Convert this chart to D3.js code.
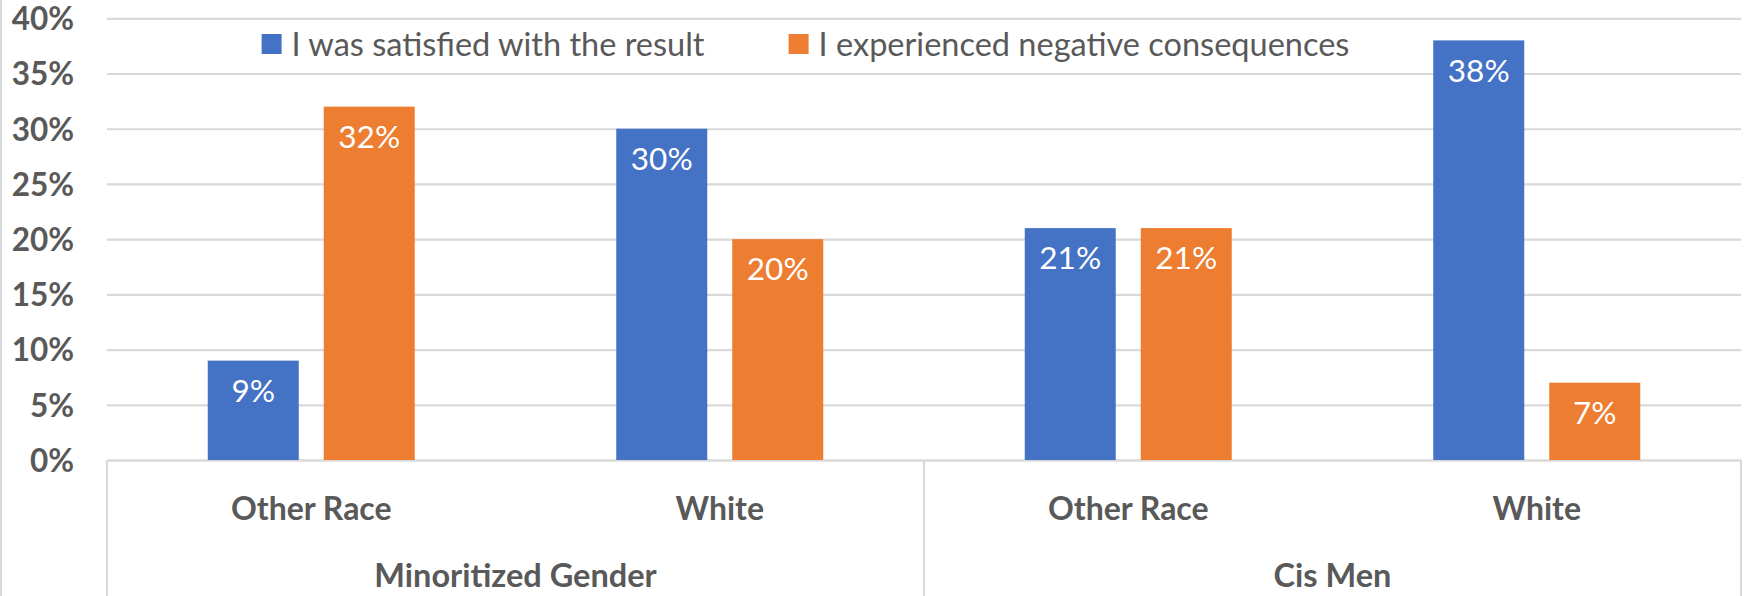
<!DOCTYPE html>
<html>
<head>
<meta charset="utf-8">
<script src="https://cdn.jsdelivr.net/npm/d3@7"></script>
<style>
  html, body { margin: 0; padding: 0; background: #fff; }
  svg { display: block; }
</style>
</head>
<body>
<svg id="chart" width="1744" height="596"></svg>
<script>
// Data
const subCategories = ["Other Race", "White", "Other Race", "White"];
const groupNames = ["Minoritized Gender", "Cis Men"];
const groupSpan = [2, 2];               // how many sub-categories each group covers
const seriesNames = ["I was satisfied with the result", "I experienced negative consequences"];
const satisfied = [0.09, 0.30, 0.21, 0.38];
const negative = [0.32, 0.20, 0.21, 0.07];
const yTicks = [0, 0.05, 0.10, 0.15, 0.20, 0.25, 0.30, 0.35, 0.40];

const colors = ["#4472C4", "#ED7D31"];
const textColor = "#595959";
const gridColor = "#D9D9D9";
const fontFamily = "Lato, 'Open Sans', sans-serif";

const svg = d3.select("#chart");
const W = 1744, H = 596;
const plot = { left: 107, right: 1741, top: 18.3, bottom: 460 };

const rows = subCategories.map((c, i) => ({ idx: i, cat: c, values: [satisfied[i], negative[i]] }));

// Scales
const x0 = d3.scaleBand()
  .domain(rows.map(d => d.idx))
  .range([plot.left, plot.right])
  .paddingInner(0).paddingOuter(0);

const x1 = d3.scaleBand()
  .domain(d3.range(seriesNames.length))
  .range([0, x0.bandwidth()])
  .paddingInner(0.2155)
  .paddingOuter(0.8686);

const y = d3.scaleLinear()
  .domain([0, 0.40])
  .range([plot.bottom, plot.top]);

// Outer chart border (left edge)
svg.append("line")
  .attr("x1", 1).attr("x2", 1).attr("y1", 0).attr("y2", H)
  .attr("stroke", gridColor).attr("stroke-width", 2);

// Y axis with gridlines
const yAxis = d3.axisLeft(y)
  .tickValues(yTicks)
  .tickFormat(d3.format(".0%"))
  .tickSize(-(plot.right - plot.left))
  .tickPadding(33);

const gy = svg.append("g")
  .attr("transform", `translate(${plot.left},0)`)
  .call(yAxis);
gy.select(".domain").remove();
gy.selectAll(".tick line")
  .attr("stroke", gridColor).attr("stroke-width", 2.2);
gy.selectAll(".tick text")
  .attr("fill", textColor)
  .attr("font-family", fontFamily)
  .attr("font-weight", "bold")
  .attr("font-size", 31.5)
  .attr("dy", "0.36em");

// Category axis: baseline, sub-category labels, group labels and separators
const gx = svg.append("g")
  .attr("transform", `translate(0,${plot.bottom})`)
  .call(d3.axisBottom(x0).tickSize(0).tickPadding(0).tickFormat(i => subCategories[i]));
gx.select(".domain").attr("stroke", gridColor).attr("stroke-width", 2.2);
gx.selectAll(".tick text")
  .attr("fill", textColor)
  .attr("font-family", fontFamily)
  .attr("font-weight", "bold")
  .attr("font-size", 32)
  .attr("y", 48)
  .attr("dy", "0.36em");

let start = 0;
const groupRows = groupNames.map((g, gi) => {
  const s = start; start += groupSpan[gi];
  return { name: g, first: s, last: start - 1 };
});
const boundaries = groupRows.map(g => x0(g.first)).concat([x0(groupRows[groupRows.length - 1].last) + x0.bandwidth()]);

svg.append("g").selectAll("line")
  .data(boundaries)
  .join("line")
  .attr("x1", d => d).attr("x2", d => d)
  .attr("y1", plot.bottom).attr("y2", H)
  .attr("stroke", gridColor).attr("stroke-width", 2.2);

svg.append("g").selectAll("text")
  .data(groupRows)
  .join("text")
  .attr("x", g => (x0(g.first) + x0(g.last) + x0.bandwidth()) / 2)
  .attr("y", plot.bottom + 115)
  .attr("dy", "0.36em")
  .attr("text-anchor", "middle")
  .attr("fill", textColor)
  .attr("font-family", fontFamily)
  .attr("font-weight", "bold")
  .attr("font-size", 32.5)
  .text(g => g.name);

// Bars
const barGroups = svg.append("g").selectAll("g")
  .data(rows)
  .join("g")
  .attr("transform", d => `translate(${x0(d.idx)},0)`);

const cells = barGroups.selectAll("g")
  .data(d => d.values.map((v, s) => ({ s, v })))
  .join("g");

cells.append("rect")
  .attr("x", d => x1(d.s))
  .attr("width", x1.bandwidth())
  .attr("y", d => y(d.v))
  .attr("height", d => y(0) - y(d.v))
  .attr("fill", d => colors[d.s]);

cells.append("text")
  .attr("x", d => x1(d.s) + x1.bandwidth() / 2)
  .attr("y", d => y(d.v) + 30)
  .attr("dy", "0.36em")
  .attr("text-anchor", "middle")
  .attr("fill", "#ffffff")
  .attr("font-family", fontFamily)
  .attr("font-size", 31.5)
  .text(d => d3.format(".0%")(d.v));

// Legend
const legendX = [261.6, 788.6];
const legendY = 44;
const legend = svg.append("g").selectAll("g")
  .data(seriesNames)
  .join("g")
  .attr("transform", (d, i) => `translate(${legendX[i]},${legendY})`);
legend.append("rect")
  .attr("x", 0).attr("y", -10)
  .attr("width", 20).attr("height", 20)
  .attr("fill", (d, i) => colors[i]);
legend.append("text")
  .attr("x", 30).attr("y", 0)
  .attr("dy", "0.36em")
  .attr("fill", textColor)
  .attr("font-family", fontFamily)
  .attr("font-size", 32.5)
  .text(d => d);
</script>
</body>
</html>
